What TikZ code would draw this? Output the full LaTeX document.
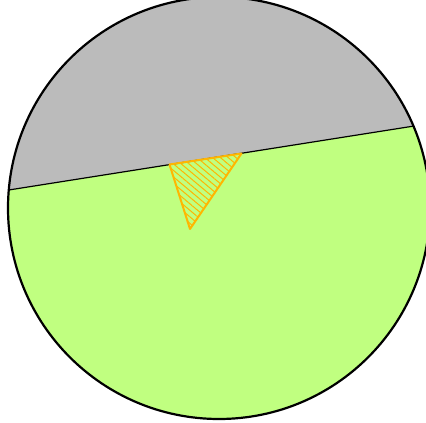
\documentclass[tikz,border=0pt]{standalone}
\usetikzlibrary{patterns.meta}
\definecolor{diskgray}{RGB}{187,187,187}
\definecolor{diskgreen}{RGB}{192,255,128}
\definecolor{wedgeorange}{RGB}{255,182,0}

\begin{document}
\begin{tikzpicture}[x=1pt, y=1pt, line join=round]
  \useasboundingbox (0,0) rectangle (426,423); % identical box

  % --- disc and cut ---
  \coordinate (O) at (219,215);
  \coordinate (cutL) at (-40,225.3);
  \coordinate (cutR) at (470,305.8);
  \begin{scope}
    \clip (O) circle (211);
    \fill[diskgray]  (O) circle (211);
    \fill[diskgreen] (cutL) -- (cutR) -- (470,-20) -- (-40,-20) -- cycle;
    \draw[line width=1.2pt] (cutL) -- (cutR);
  \end{scope}
  \draw[line width=2.2pt] (O) circle (211);

  % --- hatched wedge ---
  \coordinate (wA) at (169.5,258.5);
  \coordinate (wB) at (241.5,269.5);
  \coordinate (wC) at (190,194);
  \fill[pattern={Lines[angle=-40, distance=5pt, line width=1pt]},
        pattern color=wedgeorange] (wA) -- (wB) -- (wC) -- cycle;
  \draw[wedgeorange, line width=2pt] (wA) -- (wB) -- (wC) -- cycle;
\end{tikzpicture}
\end{document}
